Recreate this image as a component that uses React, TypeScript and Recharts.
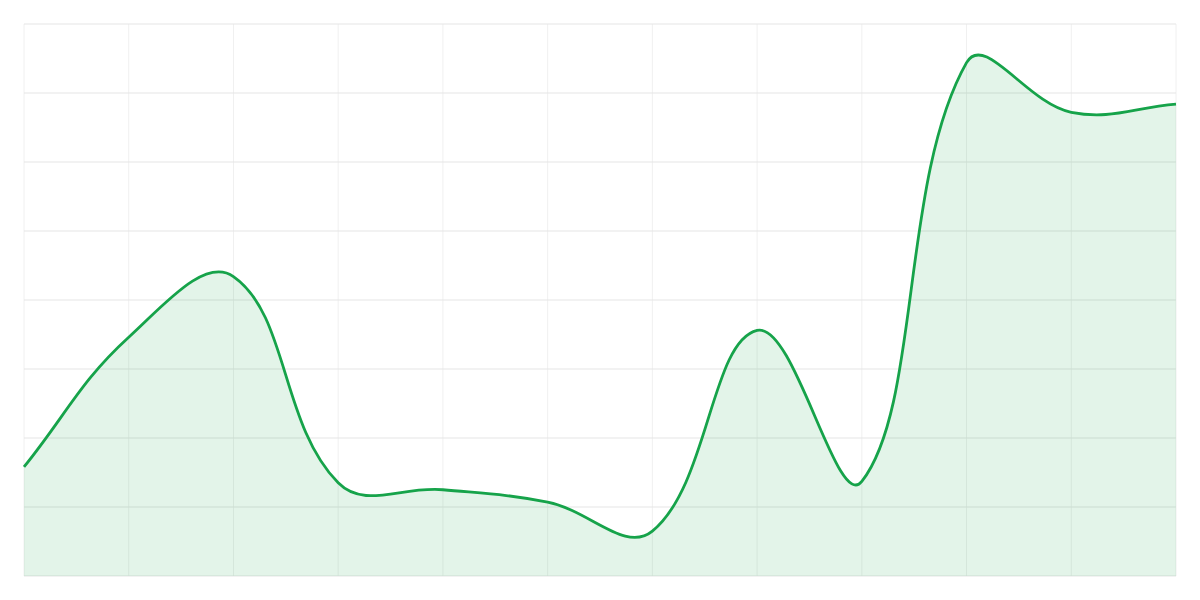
import React from "react";
import { AreaChart, Area, XAxis, YAxis, CartesianGrid } from "recharts";

// point labels along the x axis (axis itself is hidden)
const labels = ["P1", "P2", "P3", "P4", "P5", "P6", "P7", "P8", "P9", "P10", "P11", "P12"];
// series values
const values = [15.8, 34.6, 43.4, 13.5, 12.5, 10.7, 6.5, 35.6, 13.7, 74.4, 67.2, 68.4];
const yTicks = [0, 10, 20, 30, 40, 50, 60, 70, 80];

const data = labels.map((label, i) => ({ label, value: values[i] }));

// Bezier spline in the style of Chart.js (tension 0.4): control arms scaled
// by the distance to the neighbouring points, so the curve can overshoot.
const splineCurve = (tension: number) => (context: any) => {
  let pts: [number, number][] = [];
  let line = NaN;

  const draw = () => {
    const n = pts.length;
    if (!n) return;
    if (line) context.lineTo(pts[0][0], pts[0][1]);
    else context.moveTo(pts[0][0], pts[0][1]);
    if (n === 1) return;

    const ctrl = pts.map((cur, i) => {
      const prev = i > 0 ? pts[i - 1] : cur;
      const next = i < n - 1 ? pts[i + 1] : cur;
      const d01 = Math.hypot(cur[0] - prev[0], cur[1] - prev[1]);
      const d12 = Math.hypot(next[0] - cur[0], next[1] - cur[1]);
      let s01 = d01 / (d01 + d12);
      let s12 = d12 / (d01 + d12);
      if (isNaN(s01)) s01 = 0;
      if (isNaN(s12)) s12 = 0;
      const fa = tension * s01;
      const fb = tension * s12;
      return {
        prev: [cur[0] - fa * (next[0] - prev[0]), cur[1] - fa * (next[1] - prev[1])],
        next: [cur[0] + fb * (next[0] - prev[0]), cur[1] + fb * (next[1] - prev[1])],
      };
    });

    for (let i = 0; i < n - 1; i++) {
      const a = ctrl[i].next;
      const b = ctrl[i + 1].prev;
      context.bezierCurveTo(a[0], a[1], b[0], b[1], pts[i + 1][0], pts[i + 1][1]);
    }
  };

  return {
    areaStart() {
      line = 0;
    },
    areaEnd() {
      line = NaN;
    },
    lineStart() {
      pts = [];
    },
    point(x: number, y: number) {
      pts.push([+x, +y]);
    },
    lineEnd() {
      draw();
      if (line || (line !== 0 && pts.length === 1)) context.closePath();
      line = 1 - line;
    },
  };
};

const curve = splineCurve(0.4);

export default function App() {
  return (
    <div style={{ position: "absolute", left: 0, top: 0, background: "#fff" }}>
      <AreaChart
        width={1200}
        height={600}
        data={data}
        margin={{ top: 24, right: 24, bottom: 24, left: 24 }}
      >
        <CartesianGrid horizontal={false} stroke="#f0f0f0" />
        <CartesianGrid vertical={false} stroke="#e5e5e5" />
        <XAxis dataKey="label" hide />
        <YAxis domain={[0, 80]} ticks={yTicks} hide />
        <Area
          type={curve as any}
          dataKey="value"
          stroke="#16a34a"
          strokeWidth={2.8}
          fill="#16a34a"
          fillOpacity={0.12}
          dot={false}
          activeDot={false}
          isAnimationActive={false}
        />
      </AreaChart>
    </div>
  );
}
